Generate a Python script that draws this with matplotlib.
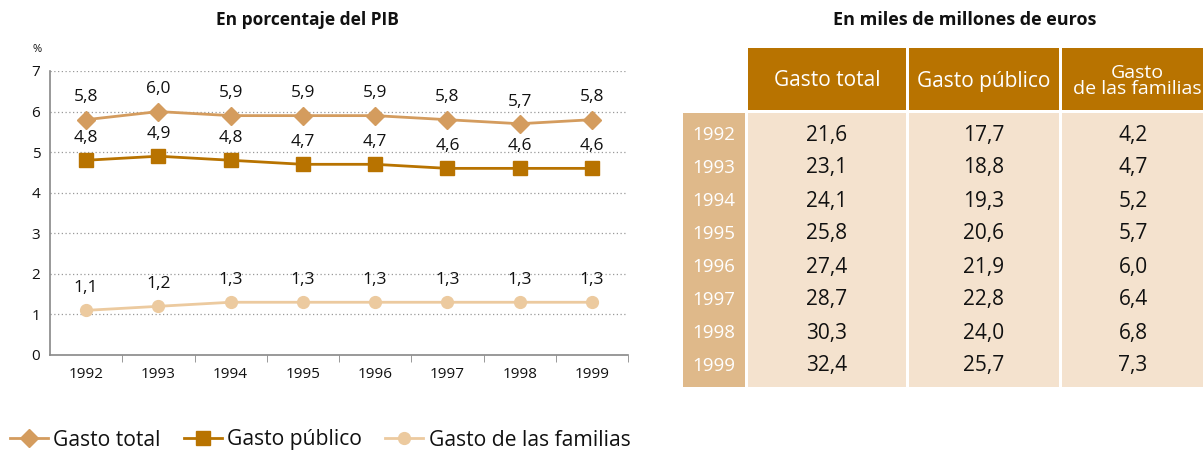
import matplotlib.pyplot as plt
from matplotlib.patches import Rectangle
from matplotlib.lines import Line2D

plt.rcParams['font.family'] = ['Open Sans', 'DejaVu Sans']

# datos
anios = ['1992', '1993', '1994', '1995', '1996', '1997', '1998', '1999']
gasto_total_pib = [5.8, 6.0, 5.9, 5.9, 5.9, 5.8, 5.7, 5.8]
gasto_publico_pib = [4.8, 4.9, 4.8, 4.7, 4.7, 4.6, 4.6, 4.6]
gasto_familias_pib = [1.1, 1.2, 1.3, 1.3, 1.3, 1.3, 1.3, 1.3]

columnas_tabla = ['Gasto total', 'Gasto público', 'Gasto\nde las familias']
gasto_total_eur = [21.6, 23.1, 24.1, 25.8, 27.4, 28.7, 30.3, 32.4]
gasto_publico_eur = [17.7, 18.8, 19.3, 20.6, 21.9, 22.8, 24.0, 25.7]
gasto_familias_eur = [4.2, 4.7, 5.2, 5.7, 6.0, 6.4, 6.8, 7.3]

c_total = '#D49C5E'
c_publico = '#B87300'
c_familias = '#ECCA9F'
c_cab = '#B87300'
c_anio = '#DFB98A'
c_cuerpo = '#F4E2CE'
negro = '#111111'


def coma(v):
    return f'{v:.1f}'.replace('.', ',')


fig = plt.figure(figsize=(12.03, 4.5), dpi=100)
W, H = 1203, 450

# ---- grafico de lineas
ax = fig.add_axes([50 / W, 1 - 355 / H, 578 / W, 284 / H])
x = list(range(len(anios)))
series = [
    (gasto_total_pib, c_total, 'D', 9.5, 'Gasto total'),
    (gasto_publico_pib, c_publico, 's', 9.5, 'Gasto público'),
    (gasto_familias_pib, c_familias, 'o', 8.5, 'Gasto de las familias'),
]
for vals, col, mk, ms, nombre in series:
    ax.plot(x, vals, color=col, lw=2, marker=mk, ms=ms, label=nombre, zorder=3)
    for xi, v in zip(x, vals):
        ax.annotate(coma(v), (xi, v), xytext=(0, 16), textcoords='offset points',
                    ha='center', va='center', fontsize=12.5, color=negro)

ax.set_xlim(-0.5, 7.5)
ax.set_ylim(0, 7)
ax.set_yticks(range(0, 8))
ax.set_yticklabels([str(i) for i in range(0, 8)], fontsize=11, color=negro)
ax.set_xticks(x)
ax.set_xticklabels(anios, fontsize=11, color=negro)
ax.set_xticks([i - 0.5 for i in range(1, 9)], minor=True)
ax.tick_params(axis='x', which='major', length=0, pad=9)
ax.tick_params(axis='x', which='minor', length=5, color='#888888')
ax.tick_params(axis='y', length=0, pad=7)
for i in range(1, 8):
    ax.axhline(i, color='#999999', lw=0.9, ls=(0, (1, 2)), zorder=1)
for s in ['top', 'right']:
    ax.spines[s].set_visible(False)
ax.spines['left'].set_color('#888888')
ax.spines['bottom'].set_color('#888888')
ax.spines['left'].set_linewidth(1.2)
ax.spines['bottom'].set_linewidth(1.2)

fig.text(37 / W, 1 - 50 / H, '%', fontsize=8, ha='center', va='center', color=negro)
fig.text(307 / W, 1 - 20 / H, 'En porcentaje del PIB', fontsize=12.5,
         fontweight='bold', ha='center', va='center', color=negro)

handles = [Line2D([0], [0], color=c, lw=2, marker=m, ms=ms) for _, c, m, ms, _ in series]
fig.legend(handles, [s[4] for s in series], loc='center left',
           bbox_to_anchor=(10 / W, 1 - 440 / H), ncol=3, frameon=False,
           fontsize=15.2, handlelength=1.8, handletextpad=0.25, columnspacing=1.1,
           borderaxespad=0, borderpad=0, labelcolor=negro)

# ---- tabla
fig.text(965 / W, 1 - 20 / H, 'En miles de millones de euros', fontsize=13,
         fontweight='bold', ha='center', va='center', color=negro)

tx = fig.add_axes([683 / W, 1 - 390 / H, 520 / W, 342 / H])
tx.set_xlim(0, 520)
tx.set_ylim(342, 0)
tx.axis('off')

anchos = [62, 158, 150, 150]
sep = 3
alto_cab = 62
fila = 33
y_cuerpo = alto_cab + sep
alto_cuerpo = 274

bordes = []
xc = 0
for w in anchos:
    bordes.append(xc)
    xc += w + sep

valores = [gasto_total_eur, gasto_publico_eur, gasto_familias_eur]
for j, (x0, w) in enumerate(zip(bordes, anchos)):
    if j == 0:
        tx.add_patch(Rectangle((x0, y_cuerpo), w, alto_cuerpo, color=c_anio, lw=0))
        for i, a in enumerate(anios):
            tx.text(x0 + w / 2, y_cuerpo + 22 + i * fila, a, ha='center', va='center',
                    color='white', fontsize=13.5)
    else:
        tx.add_patch(Rectangle((x0, 0), w, alto_cab, color=c_cab, lw=0))
        tx.add_patch(Rectangle((x0, y_cuerpo), w, alto_cuerpo, color=c_cuerpo, lw=0))
        tx.text(x0 + w / 2, alto_cab / 2 + 2, columnas_tabla[j - 1],
                ha='center', va='center', color='white',
                fontsize=15 if j < 3 else 14, linespacing=0.9)
        for i, v in enumerate(valores[j - 1]):
            tx.text(x0 + w / 2 - (4 if j == 3 else 0), y_cuerpo + 22 + i * fila, coma(v),
                    ha='center', va='center', color=negro, fontsize=15)

fig.savefig('out.png', dpi=100)
